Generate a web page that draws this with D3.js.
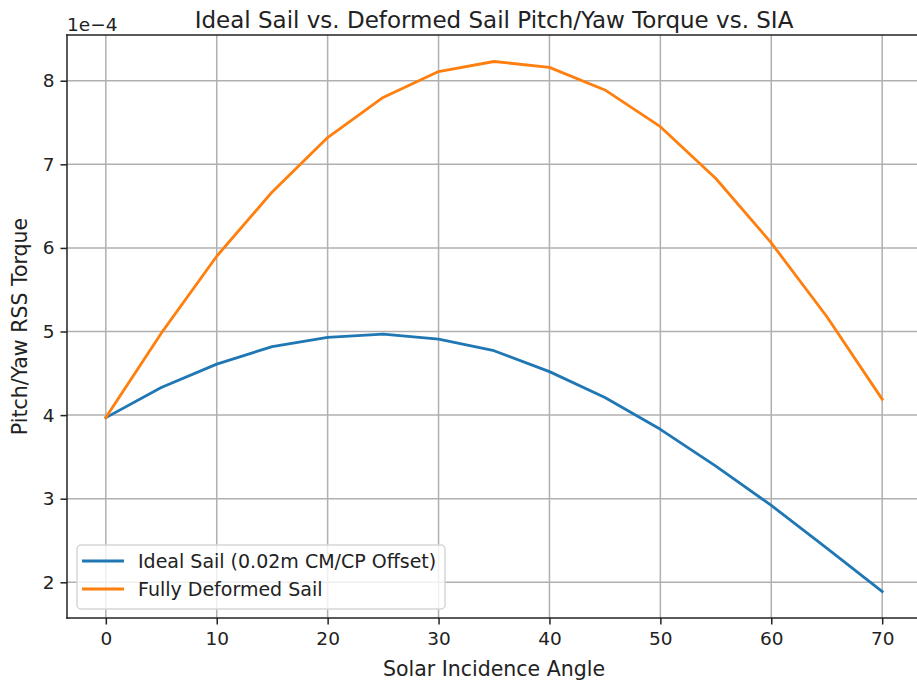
<!DOCTYPE html>
<html>
<head>
<meta charset="utf-8">
<script src="https://cdn.jsdelivr.net/npm/d3@7"></script>
<style>
  html, body { margin: 0; padding: 0; background: #fff; }
  svg { display: block; font-family: "DejaVu Sans", sans-serif; }
</style>
</head>
<body>
<svg id="chart" width="917" height="682"></svg>
<script>
// Solar incidence angle (degrees)
const angles = [0, 5, 10, 15, 20, 25, 30, 35, 40, 45, 50, 55, 60, 65, 70];
// Pitch/yaw RSS torque, in units of 1e-4
const idealSail = [3.97, 4.33, 4.61, 4.82, 4.93, 4.97, 4.91, 4.77, 4.52, 4.21, 3.83, 3.39, 2.92, 2.41, 1.89];
const deformedSail = [3.97, 4.98, 5.90, 6.67, 7.32, 7.80, 8.11, 8.23, 8.16, 7.89, 7.45, 6.83, 6.06, 5.18, 4.19];

const xTicks = [0, 10, 20, 30, 40, 50, 60, 70];
const yTicks = [2, 3, 4, 5, 6, 7, 8];

const seriesNames = ["Ideal Sail (0.02m CM/CP Offset)", "Fully Deformed Sail"];
const seriesColors = ["#1f77b4", "#ff7f0e"];
const series = [idealSail, deformedSail];

const titleText = "Ideal Sail vs. Deformed Sail Pitch/Yaw Torque vs. SIA";
const xLabel = "Solar Incidence Angle";
const yLabel = "Pitch/Yaw RSS Torque";
const offsetText = "1e\u22124";

const svg = d3.select("#chart");
const plot = { left: 67, top: 35, right: 921, bottom: 618 };

// autoscale with 5% margins on both axes
function padded(extent) {
  const span = extent[1] - extent[0];
  return [extent[0] - 0.05 * span, extent[1] + 0.05 * span];
}
const allY = idealSail.concat(deformedSail);

const x = d3.scaleLinear().domain(padded(d3.extent(angles))).range([plot.left, plot.right]);
const y = d3.scaleLinear().domain(padded(d3.extent(allY))).range([plot.bottom, plot.top]);

const gridColor = "#b0b0b0";
const grid = svg.append("g");
grid.selectAll("line.vx").data(xTicks).join("line")
  .attr("x1", d => x(d)).attr("x2", d => x(d))
  .attr("y1", plot.top).attr("y2", plot.bottom)
  .attr("stroke", gridColor).attr("stroke-width", 1.5);
grid.selectAll("line.hy").data(yTicks).join("line")
  .attr("x1", plot.left).attr("x2", plot.right)
  .attr("y1", d => y(d)).attr("y2", d => y(d))
  .attr("stroke", gridColor).attr("stroke-width", 1.5);

// axes
const xAxis = d3.axisBottom(x).tickValues(xTicks).tickSize(6.5).tickPadding(7).tickFormat(d3.format("d"));
const yAxis = d3.axisLeft(y).tickValues(yTicks).tickSize(6.5).tickPadding(6).tickFormat(d3.format("d"));

const gx = svg.append("g").attr("transform", `translate(0,${plot.bottom})`).call(xAxis);
const gy = svg.append("g").attr("transform", `translate(${plot.left},0)`).call(yAxis);
[gx, gy].forEach(g => {
  g.select(".domain").remove();
  g.selectAll(".tick line").attr("stroke", "#222").attr("stroke-width", 1.5);
  g.selectAll(".tick text").attr("fill", "#222").attr("font-size", 18.5)
    .attr("font-family", "DejaVu Sans, sans-serif");
});

// series lines
const line = d3.line().x((d, i) => x(angles[i])).y(d => y(d));
series.forEach((s, k) => {
  svg.append("path").datum(s)
    .attr("d", line)
    .attr("fill", "none")
    .attr("stroke", seriesColors[k])
    .attr("stroke-width", 2.8)
    .attr("stroke-linejoin", "round")
    .attr("stroke-linecap", "square");
});

// spines
const spines = svg.append("g").attr("stroke", "#222").attr("stroke-width", 1.5).attr("stroke-linecap", "square");
spines.append("line").attr("x1", plot.left).attr("x2", plot.left).attr("y1", plot.top).attr("y2", plot.bottom);
spines.append("line").attr("x1", plot.left).attr("x2", plot.right).attr("y1", plot.top).attr("y2", plot.top);
spines.append("line").attr("x1", plot.left).attr("x2", plot.right).attr("y1", plot.bottom).attr("y2", plot.bottom);
spines.append("line").attr("x1", plot.right).attr("x2", plot.right).attr("y1", plot.top).attr("y2", plot.bottom);

// title, labels, offset text
const cx = (plot.left + plot.right) / 2;
svg.append("text").attr("x", cx).attr("y", 28).attr("text-anchor", "middle")
  .attr("font-size", 23).attr("fill", "#222").text(titleText);
svg.append("text").attr("x", cx).attr("y", 676).attr("text-anchor", "middle")
  .attr("font-size", 20.5).attr("fill", "#222").text(xLabel);
svg.append("text").attr("transform", `translate(27,${(plot.top + plot.bottom) / 2}) rotate(-90)`)
  .attr("text-anchor", "middle").attr("font-size", 20.5).attr("fill", "#222").text(yLabel);
svg.append("text").attr("x", plot.left).attr("y", 31).attr("font-size", 18.5)
  .attr("fill", "#222").text(offsetText);

// legend
const legend = svg.append("g").attr("transform", "translate(77,545)");
legend.append("rect").attr("width", 368).attr("height", 64).attr("rx", 4)
  .attr("fill", "#fff").attr("fill-opacity", 0.8)
  .attr("stroke", "#d6d6d6").attr("stroke-width", 1.5);
seriesNames.forEach((name, k) => {
  const ly = 16 + k * 28;
  legend.append("line").attr("x1", 5).attr("x2", 47).attr("y1", ly).attr("y2", ly)
    .attr("stroke", seriesColors[k]).attr("stroke-width", 2.8);
  legend.append("text").attr("x", 61).attr("y", ly).attr("dy", "0.36em")
    .attr("font-size", 19).attr("fill", "#222").text(name);
});
</script>
</body>
</html>
